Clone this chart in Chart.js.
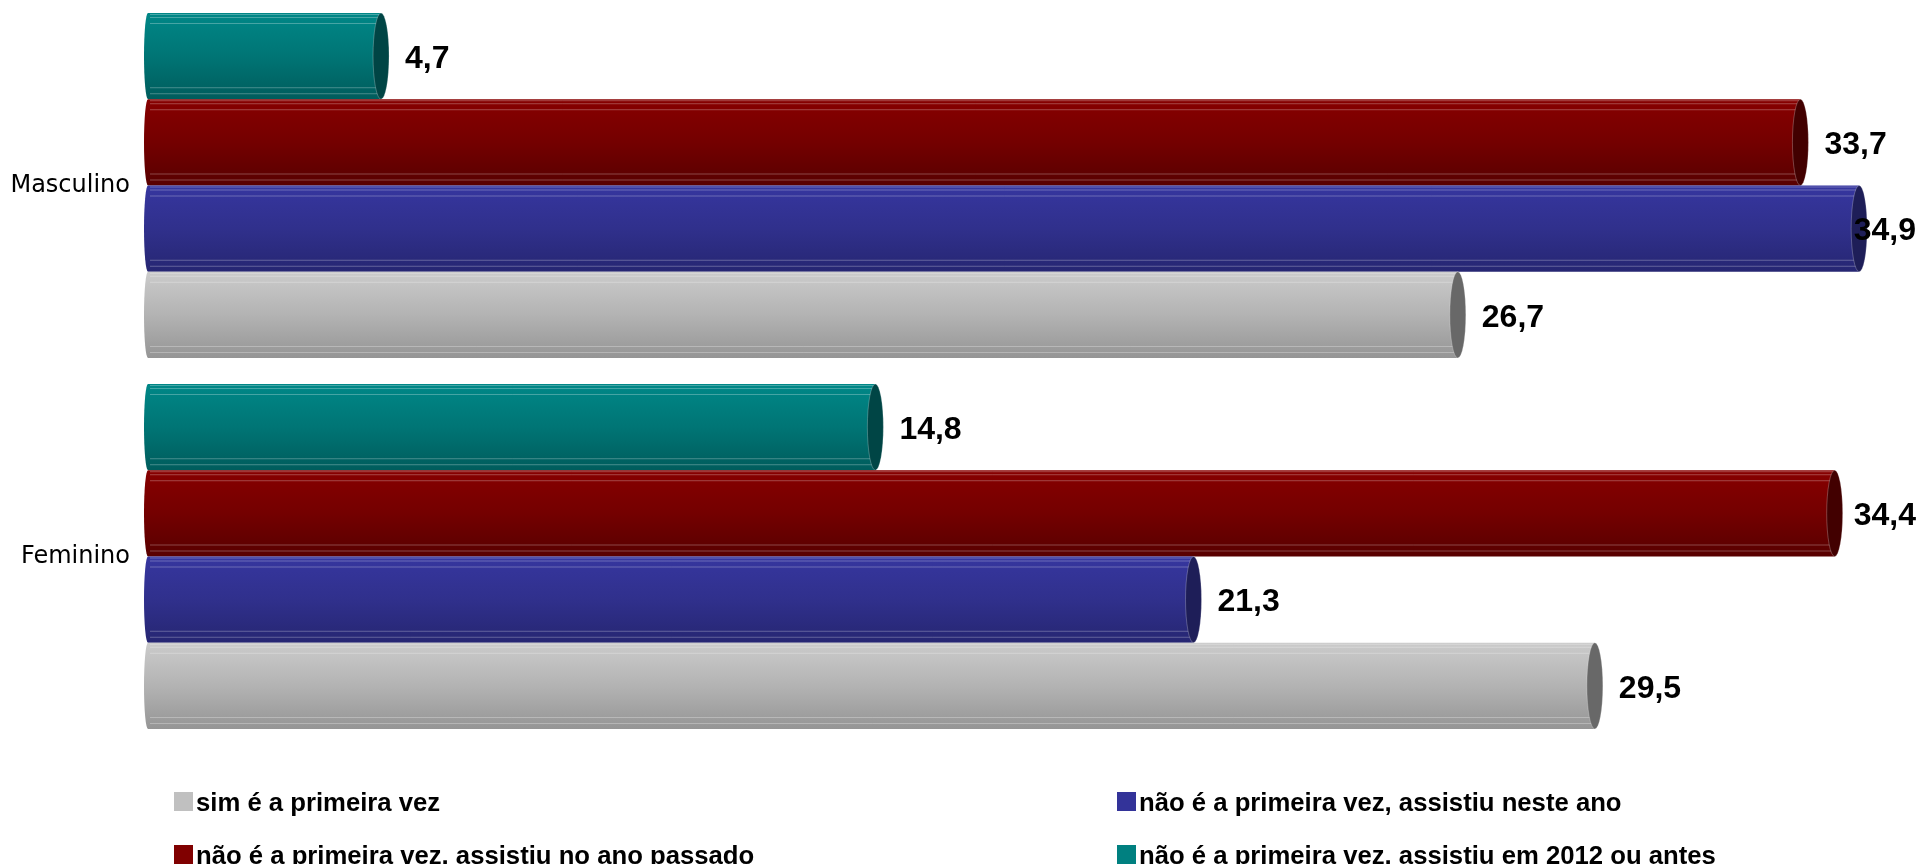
<!DOCTYPE html>
<html>
<head>
<meta charset="utf-8">
<script src="https://cdn.jsdelivr.net/npm/chart.js@4/dist/chart.umd.min.js"></script>
<style>
html,body{margin:0;padding:0;background:#fff;overflow:hidden;}
canvas{display:block;}
</style>
</head>
<body>
<canvas id="c" width="1921" height="864"></canvas>
<script>
const categories = ['Masculino', 'Feminino'];
const simPrimeira = [26.7, 29.5];
const naoNesteAno = [34.9, 21.3];
const naoAnoPassado = [33.7, 34.4];
const nao2012 = [4.7, 14.8];
const seriesLabels = [
  'não é a primeira vez, assistiu em 2012 ou antes',
  'não é a primeira vez, assistiu no ano passado',
  'não é a primeira vez, assistiu neste ano',
  'sim é a primeira vez'
];

const styles = [
  {base:'#008080', g:['#008787','#007575','#005c5c'], cap:'#004545'},
  {base:'#800000', g:['#870000','#740000','#580000'], cap:'#420000'},
  {base:'#333399', g:['#36369f','#30308c','#262672'], cap:'#1e1e58'},
  {base:'#c0c0c0', g:['#cbcbcb','#b3b3b3','#959595'], cap:'#686868'}
];

const fmt = v => v.toFixed(1).replace('.', ',');

const cylinderPlugin = {
  id: 'cylinders',
  afterDatasetsDraw(chart) {
    const ctx = chart.ctx;
    const W = chart.width;
    chart.data.datasets.forEach((ds, di) => {
      const meta = chart.getDatasetMeta(di);
      const st = styles[di];
      meta.data.forEach((el, i) => {
        const p = el.getProps(['x','y','base','height'], true);
        const top = p.y - p.height / 2, bot = p.y + p.height / 2, h = p.height;
        const cx = p.x, left = p.base - 3, rx = 8, lrx = 4;
        const grad = ctx.createLinearGradient(0, top, 0, bot);
        grad.addColorStop(0, st.g[0]);
        grad.addColorStop(0.5, st.g[1]);
        grad.addColorStop(1, st.g[2]);
        ctx.save();
        ctx.beginPath();
        ctx.moveTo(cx, top);
        ctx.lineTo(left, top);
        ctx.ellipse(left, p.y, lrx, h / 2, 0, -Math.PI / 2, Math.PI / 2, true);
        ctx.lineTo(cx, bot);
        ctx.closePath();
        ctx.fillStyle = grad;
        ctx.fill();
        ctx.strokeStyle = 'rgba(255,255,255,0.28)';
        ctx.lineWidth = 1;
        [top + 1.5, top + 4.5, top + 10.5, bot - 11.5, bot - 5.5].forEach(yy => {
          ctx.beginPath();
          ctx.moveTo(left + 2, yy);
          ctx.lineTo(cx, yy);
          ctx.stroke();
        });
        ctx.beginPath();
        ctx.ellipse(cx, p.y, rx, h / 2, 0, 0, Math.PI * 2);
        ctx.fillStyle = st.cap;
        ctx.fill();
        ctx.strokeStyle = 'rgba(255,255,255,0.25)';
        ctx.stroke();
        ctx.restore();
      });
    });
    chart.data.datasets.forEach((ds, di) => {
      const meta = chart.getDatasetMeta(di);
      meta.data.forEach((el, i) => {
        const p = el.getProps(['x','y'], true);
        const txt = fmt(ds.data[i]);
        ctx.save();
        ctx.font = 'bold 32px "Liberation Sans", Arial, sans-serif';
        ctx.fillStyle = '#000';
        ctx.textBaseline = 'middle';
        ctx.textAlign = 'left';
        const w = ctx.measureText(txt).width;
        let lx = p.x + 8 + 16;
        if (lx + w > W - 5) lx = W - 5 - w;
        ctx.fillText(txt, lx, p.y + 3);
        ctx.restore();
      });
    });
  },
  afterDraw(chart) {
    const ctx = chart.ctx;
    const order = [3, 2, 1, 0];
    const cols = [174, 1117];
    const rows = [792, 845];
    ctx.save();
    ctx.font = 'bold 25.7px "Liberation Sans", Arial, sans-serif';
    ctx.textBaseline = 'alphabetic';
    ctx.textAlign = 'left';
    order.forEach((di, k) => {
      const x = cols[k % 2], y = rows[Math.floor(k / 2)];
      ctx.fillStyle = styles[di].base;
      ctx.fillRect(x, y, 19, 19);
      ctx.fillStyle = '#000';
      ctx.fillText(chart.data.datasets[di].label, x + 22, y + 18.5);
    });
    ctx.restore();
  }
};

const seriesData = [nao2012, naoAnoPassado, naoNesteAno, simPrimeira];

new Chart(document.getElementById('c'), {
  type: 'bar',
  data: {
    labels: categories,
    datasets: seriesData.map((d, i) => ({
      label: seriesLabels[i],
      data: d,
      backgroundColor: 'rgba(0,0,0,0)',
      borderWidth: 0,
      categoryPercentage: 0.93,
      barPercentage: 1.0
    }))
  },
  options: {
    indexAxis: 'y',
    responsive: false,
    animation: false,
    layout: {padding: {left: 0, right: 8, top: 0, bottom: 122}},
    plugins: {legend: {display: false}, tooltip: {enabled: false}},
    scales: {
      x: {display: false, min: 0, max: 36},
      y: {
        grid: {display: false, drawTicks: false},
        border: {display: false},
        ticks: {
          color: '#000',
          padding: 21,
          font: {family: '"DejaVu Sans", Verdana, sans-serif', size: 24}
        },
        afterFit(scale) {
          scale.width = 151;
          scale.paddingTop = 0;
          scale.paddingBottom = 0;
        }
      }
    }
  },
  plugins: [cylinderPlugin]
});
</script>
</body>
</html>
